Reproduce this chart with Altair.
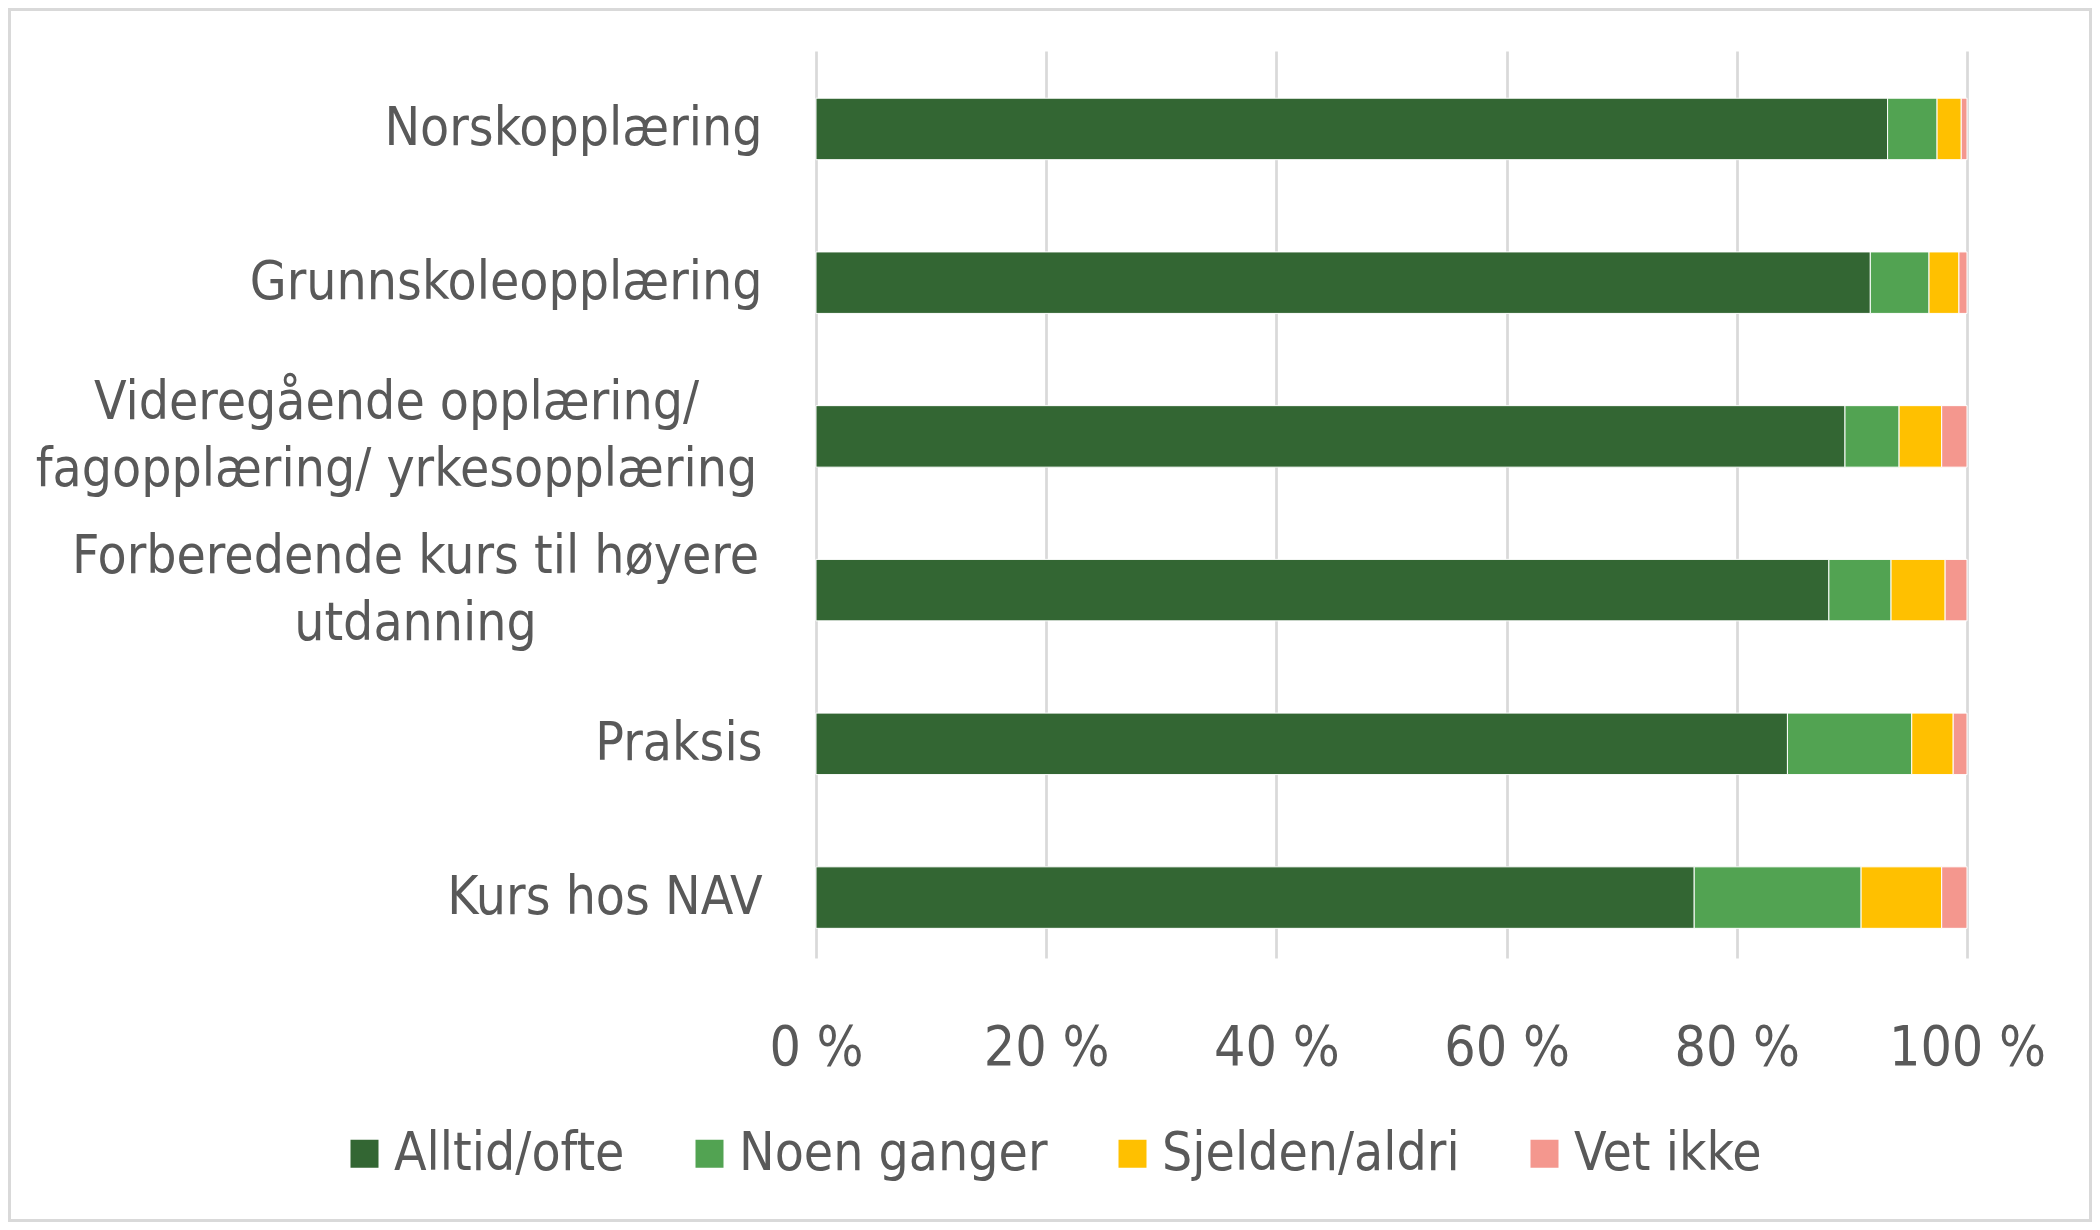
import altair as alt
import pandas as pd

rows = [
    "Norskopplæring",
    "Grunnskoleopplæring",
    "Videregående opplæring/|fagopplæring/ yrkesopplæring",
    "Forberedende kurs til høyere|utdanning",
    "Praksis",
    "Kurs hos NAV",
]
series = ["Alltid/ofte", "Noen ganger", "Sjelden/aldri", "Vet ikke"]
colors = ["#336633", "#52A352", "#FFC000", "#F4978E"]

alltid = [93.1, 91.6, 89.4, 88.0, 84.4, 76.3]
noen = [4.3, 5.1, 4.7, 5.4, 10.8, 14.5]
sjelden = [2.1, 2.6, 3.7, 4.7, 3.6, 7.0]
vet = [0.5, 0.7, 2.2, 1.9, 1.2, 2.2]

tick_values = [0, 0.2, 0.4, 0.6, 0.8, 1.0]

records = []
for i, r in enumerate(rows):
    for j, (s, vals) in enumerate(zip(series, [alltid, noen, sjelden, vet])):
        records.append({"row": r, "series": s, "value": vals[i], "idx": j})
df = pd.DataFrame(records)

FONT = "DejaVu Sans Condensed, DejaVu Sans"
GRAY = "#595959"
MULTI = "indexof(datum.label, '|') >= 0"

bars = alt.Chart(df).mark_bar(stroke="white", strokeWidth=1).encode(
    x=alt.X(
        "value:Q",
        stack="normalize",
        scale=alt.Scale(domain=[0, 1], nice=False),
        axis=alt.Axis(
            values=tick_values,
            labelExpr="round(datum.value*100) + ' %'",
            grid=True,
            gridColor="#d9d9d9",
            gridWidth=2.7,
            domain=False,
            ticks=False,
            labelFlush=False,
            labelFontSize=55,
            labelPadding=63,
            labelColor=GRAY,
            labelFont=FONT,
            title=None,
        ),
    ),
    y=alt.Y(
        "row:N",
        sort=rows,
        scale=alt.Scale(paddingInner=0.6, paddingOuter=0.25, align=0.614),
        axis=alt.Axis(
            labelExpr="split(datum.label, '|')",
            domain=False,
            ticks=False,
            labelFontSize=53,
            labelAlign={"condition": {"test": MULTI, "value": "center"}, "value": "right"},
            labelPadding={
                "condition": [
                    {"test": "indexof(datum.label, 'Videreg') >= 0", "value": 420},
                    {"test": "indexof(datum.label, 'Forbered') >= 0", "value": 401},
                ],
                "value": 54,
            },
            labelOffset={"condition": {"test": MULTI, "value": -33.5}, "value": 0},
            labelLimit=0,
            labelLineHeight=67,
            labelColor=GRAY,
            labelFont=FONT,
            title=None,
        ),
    ),
    color=alt.Color(
        "series:N",
        scale=alt.Scale(domain=series, range=colors),
        legend=alt.Legend(
            title=None,
            orient="none",
            direction="horizontal",
            legendX=-478,
            legendY=1076,
            symbolType="square",
            symbolSize=784,
            symbolStrokeWidth=0,
            labelFontSize=53,
            labelFont=FONT,
            labelColor=GRAY,
            labelOffset=3,
            columnPadding=58,
            labelLimit=0,
        ),
    ),
    order=alt.Order("idx:Q"),
)

frame = alt.Chart(pd.DataFrame({"a": [0]})).mark_rect(
    filled=False, stroke="#d9d9d9", strokeWidth=3
).encode(
    x=alt.value(-806.5),
    x2=alt.value(1274.5),
    y=alt.value(-41.5),
    y2=alt.value(1169.5),
)

chart = alt.layer(bars, frame).properties(
    width=1151,
    height=907,
    autosize=alt.AutoSizeParams(type="none"),
    padding={"left": 808, "top": 43, "right": 125, "bottom": 264},
    background="white",
).configure_view(stroke=None)

chart.save("out.html", embed_options={"renderer": "svg", "actions": False})
